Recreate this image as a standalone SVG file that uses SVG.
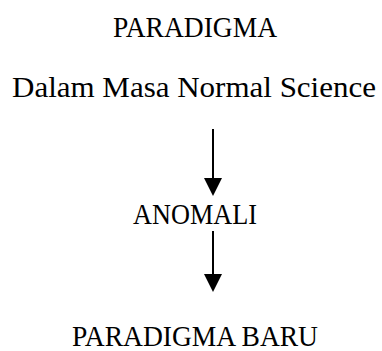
<svg xmlns="http://www.w3.org/2000/svg" width="382" height="351" viewBox="0 0 382 351">
<defs>
<style>
.t{font-family:"Liberation Serif","DejaVu Serif",serif;font-size:30px;fill:#000}
.c{stroke:#000;stroke-width:2;fill:none}
</style>
</defs>
<rect width="382" height="351" fill="#fff"/>
<g id="n1"><text class="t" x="113" y="37" textLength="164" lengthAdjust="spacingAndGlyphs">PARADIGMA</text></g>
<g id="n2"><text class="t" x="12" y="97" textLength="364" lengthAdjust="spacingAndGlyphs">Dalam Masa Normal Science</text></g>
<g id="n3"><text class="t" x="133" y="224" textLength="124" lengthAdjust="spacingAndGlyphs">ANOMALI</text></g>
<g id="n4"><text class="t" x="72" y="346" textLength="246" lengthAdjust="spacingAndGlyphs">PARADIGMA BARU</text></g>
<g id="connectors">
<path class="c" d="M213,129 L213,180" />
<path d="M204,178 L222,178 L213,196 Z" fill="#000"/>
<path class="c" d="M213,231 L213,276" />
<path d="M204,274 L222,274 L213,292 Z" fill="#000"/>
</g>
</svg>
